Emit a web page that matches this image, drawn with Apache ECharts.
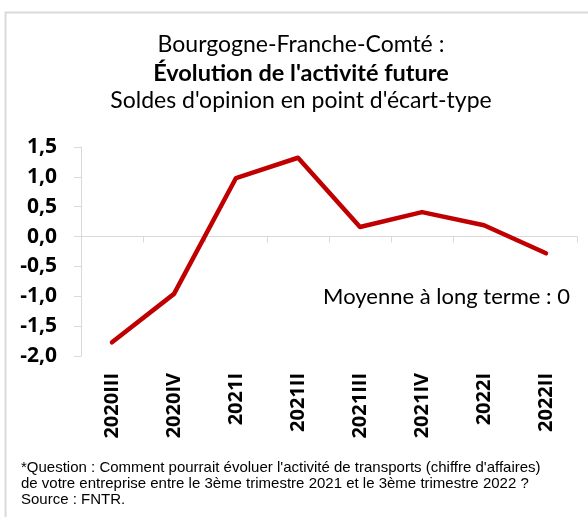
<!DOCTYPE html>
<html>
<head>
<meta charset="utf-8">
<script src="https://cdn.jsdelivr.net/npm/echarts@6/dist/echarts.min.js"></script>
<style>
html,body{margin:0;padding:0;background:#fff;}
#c{width:588px;height:517px;}
</style>
</head>
<body>
<div id="c"></div>
<script>
var categories = ['2020III','2020IV','2021I','2021II','2021III','2021IV','2022I','2022II'];
var values = [-1.77, -0.96, 0.98, 1.32, 0.16, 0.41, 0.19, -0.28];
var yMin = -2.0, yMax = 1.5, yStep = 0.5;
var titleLines = ['Bourgogne-Franche-Comté :', "Évolution de l'activité future", "Soldes d'opinion en point d'écart-type"];
var annotation = 'Moyenne à long terme : 0';
var footnote = "*Question : Comment pourrait évoluer l'activité de transports (chiffre d'affaires)\nde votre entreprise entre le 3ème trimestre 2021 et le 3ème trimestre 2022 ?\nSource : FNTR.";

var chart = echarts.init(document.getElementById('c'), null, {renderer:'canvas'});
var titleFont = 'Lato, "Open Sans", sans-serif';
var axisFont = '"Open Sans", sans-serif';
chart.setOption({
  animation: false,
  backgroundColor: '#fff',
  grid: {left: 81, top: 147, width: 496, height: 209, containLabel: false},
  xAxis: [{
    type: 'category', data: categories, position: 'bottom',
    axisLine: {show: true, onZero: true, lineStyle: {color: '#d9d9d9', width: 1}},
    axisTick: {show: true, length: 6, lineStyle: {color: '#d9d9d9'}},
    axisLabel: {show: false},
    splitLine: {show: false}
  }, {
    type: 'category', data: categories, position: 'bottom',
    axisLine: {show: false, onZero: false},
    axisTick: {show: false},
    axisLabel: {show: true, rotate: 90, margin: 17, fontFamily: axisFont, fontWeight: 'bold', fontSize: 20, color: '#000'},
    splitLine: {show: false}
  }],
  yAxis: {
    type: 'value', min: yMin, max: yMax, interval: yStep,
    axisLine: {show: true, lineStyle: {color: '#d9d9d9', width: 1}},
    axisTick: {show: true, length: 7, lineStyle: {color: '#d9d9d9'}},
    splitLine: {show: false},
    axisLabel: {margin: 24, fontFamily: axisFont, fontWeight: 'bold', fontSize: 21, color: '#000',
      formatter: function(v){ return v.toFixed(1).replace('.', ','); }}
  },
  series: [{
    type: 'line', data: values, xAxisIndex: 0, showSymbol: false, symbol: 'none',
    lineStyle: {color: '#C00000', width: 4.5, cap: 'round', join: 'round'}
  }],
  graphic: [
    {type: 'rect', left: 3, top: 10, shape: {width: 640, height: 560}, style: {fill: 'none', stroke: '#d9d9d9', lineWidth: 2}, silent: true},
    {type: 'text', x: 301, y: 45, style: {text: titleLines[0], font: '23px ' + titleFont, fill: '#000', textAlign: 'center', textVerticalAlign: 'middle'}},
    {type: 'text', x: 301, y: 73, style: {text: titleLines[1], font: 'bold 23.5px ' + titleFont, fill: '#000', textAlign: 'center', textVerticalAlign: 'middle'}},
    {type: 'text', x: 301, y: 101, style: {text: titleLines[2], font: '23px ' + titleFont, fill: '#000', textAlign: 'center', textVerticalAlign: 'middle'}},
    {type: 'text', x: 570, y: 297, style: {text: annotation, font: '22px ' + titleFont, fill: '#000', textAlign: 'right', textVerticalAlign: 'middle'}},
    {type: 'text', x: 21, y: 460, style: {text: footnote, font: '15px "Liberation Sans", Arial, sans-serif', lineHeight: 16, fill: '#000', textAlign: 'left', textVerticalAlign: 'top'}}
  ]
});
</script>
</body>
</html>
